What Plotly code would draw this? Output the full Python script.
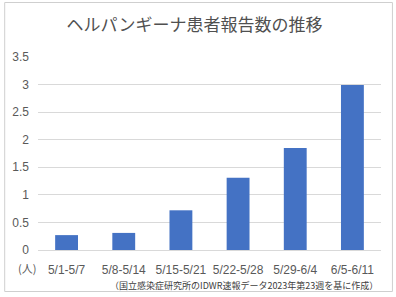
import plotly.graph_objects as go

categories = ["5/1-5/7", "5/8-5/14", "5/15-5/21", "5/22-5/28", "5/29-6/4", "6/5-6/11"]
values = [0.27, 0.31, 0.72, 1.31, 1.85, 2.99]
y_ticks = [0, 0.5, 1, 1.5, 2, 2.5, 3, 3.5]
y_tick_labels = ["0", "0.5", "1", "1.5", "2", "2.5", "3", "3.5"]
title_text = "ヘルパンギーナ患者報告数の推移"
unit_text = "(人)"
source_text = "（国立感染症研究所のIDWR速報データ2023年第23週を基に作成）"

W, H = 396, 297
L, R, T, B = 36, 15, 57, 47
pw, ph = W - L - R, H - T - B

def px_to_paper_x(px):
    return (px - L) / pw

def px_to_paper_y(py):
    return (H - B - py) / ph

TEXT = "#595959"
GRID = "#D9D9D9"

fig = go.Figure(go.Bar(
    x=categories, y=values, marker_color="#4472C4", marker_line_width=0,
))

fig.update_layout(
    width=W, height=H,
    margin=dict(l=L, r=R, t=T, b=B, pad=0),
    paper_bgcolor="white", plot_bgcolor="white",
    bargap=0.6,
    showlegend=False,
    font=dict(family="Liberation Sans, Arial, sans-serif", size=12, color=TEXT),
    title=dict(text=title_text, x=194.5 / W, xanchor="center",
               y=1 - 25.5 / H, yanchor="middle", yref="container",
               font=dict(family="Noto Sans CJK JP", size=17, color="#505050")),
    xaxis=dict(showgrid=False, showline=True, linecolor=GRID, linewidth=1,
               ticks="", ticklabelstandoff=9,
               tickfont=dict(size=12, color=TEXT), fixedrange=True),
    yaxis=dict(range=[0, 3.5], tickvals=y_ticks, ticktext=y_tick_labels,
               showgrid=True, gridcolor=GRID, gridwidth=1, zeroline=False,
               showline=False, ticks="", ticklabelstandoff=8,
               tickfont=dict(size=12, color=TEXT), fixedrange=True),
    shapes=[dict(type="rect", xref="paper", yref="paper",
                 x0=px_to_paper_x(2.5), x1=px_to_paper_x(392.5),
                 y0=px_to_paper_y(291.5), y1=px_to_paper_y(2.5),
                 line=dict(color="#CFCFCF", width=1), fillcolor="rgba(0,0,0,0)")],
    annotations=[
        dict(text=unit_text, xref="paper", yref="paper",
             x=px_to_paper_x(24.5), y=px_to_paper_y(267.5),
             xanchor="center", yanchor="middle", showarrow=False,
             font=dict(family="Noto Sans CJK JP", size=11, color=TEXT)),
        dict(text=source_text, xref="paper", yref="paper",
             x=px_to_paper_x(380), y=px_to_paper_y(285.5),
             xanchor="right", yanchor="middle", showarrow=False,
             font=dict(family="Noto Sans CJK JP", size=9, color="#404040")),
    ],
)

fig.write_html("out.html")
